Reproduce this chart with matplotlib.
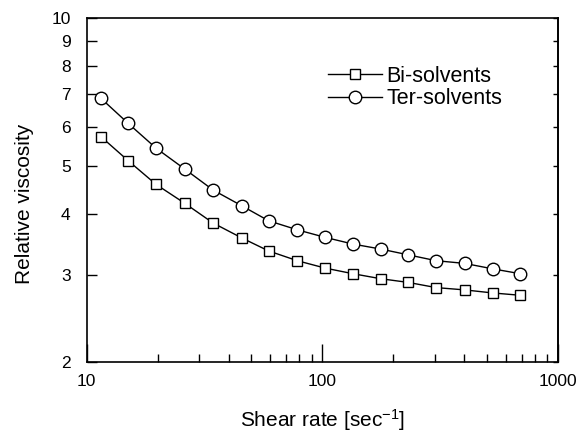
#!/usr/bin/env python3

import matplotlib
matplotlib.use("Agg")
import matplotlib.pyplot as plt
from matplotlib.ticker import FixedLocator, NullFormatter, FixedFormatter

# shear rate [1/s]
shear_rate = [11.5, 15.0, 19.7, 26.1, 34.4, 45.6, 59.2, 78.3,
              103, 135, 177, 231, 304, 401, 528, 692]

bi_solvents = [5.74, 5.13, 4.59, 4.20, 3.83, 3.57, 3.36, 3.21,
               3.10, 3.02, 2.95, 2.90, 2.83, 2.80, 2.76, 2.73]
ter_solvents = [6.87, 6.11, 5.44, 4.93, 4.47, 4.15, 3.87, 3.71,
                3.58, 3.47, 3.39, 3.30, 3.21, 3.17, 3.09, 3.02]

y_ticks = [2, 3, 4, 5, 6, 7, 8, 9, 10]
y_tick_labels = ["2", "3", "4", "5", "6", "7", "8", "9", "10"]
x_major = [10, 100, 1000]
x_major_labels = ["10", "100", "1000"]


def main():
    plt.rcParams["font.family"] = ["Liberation Sans", "DejaVu Sans"]
    plt.rcParams["mathtext.fontset"] = "custom"
    plt.rcParams["mathtext.rm"] = "Liberation Sans"
    plt.rcParams["mathtext.it"] = "Liberation Sans"
    plt.rcParams["mathtext.bf"] = "Liberation Sans"

    fig = plt.figure(figsize=(5.85, 4.36), dpi=100)
    ax = fig.add_axes([0.148, 0.1704, 0.806, 0.788])

    ax.plot(shear_rate, bi_solvents, color="black", linewidth=1.0,
            marker="s", markersize=7.5, markerfacecolor="white",
            markeredgecolor="black", markeredgewidth=1.0, label="Bi-solvents")
    ax.plot(shear_rate, ter_solvents, color="black", linewidth=1.0,
            marker="o", markersize=9, markerfacecolor="white",
            markeredgecolor="black", markeredgewidth=1.0, label="Ter-solvents")

    ax.set_xscale("log")
    ax.set_yscale("log")
    ax.set_xlim(10, 1000)
    ax.set_ylim(2, 10)

    ax.xaxis.set_major_locator(FixedLocator(x_major))
    ax.xaxis.set_major_formatter(FixedFormatter(x_major_labels))
    minors = [m * d for d in (10, 100) for m in range(2, 10)]
    ax.xaxis.set_minor_locator(FixedLocator(minors))
    ax.xaxis.set_minor_formatter(NullFormatter())

    ax.yaxis.set_major_locator(FixedLocator(y_ticks))
    ax.yaxis.set_major_formatter(FixedFormatter(y_tick_labels))
    ax.yaxis.set_minor_locator(FixedLocator([]))

    ax.tick_params(axis="x", which="major", direction="in", length=13,
                   width=1.0, labelsize=12.5, pad=9, top=False)
    ax.tick_params(axis="x", which="minor", direction="in", length=6,
                   width=1.0, top=False)
    ax.tick_params(axis="y", which="major", direction="in", length=7,
                   width=1.0, labelsize=12.5, pad=11.5, right=False)

    # short ticks on the right-hand frame, no labels
    right = ax.secondary_yaxis("right")
    right.yaxis.set_major_locator(FixedLocator(y_ticks))
    right.yaxis.set_major_formatter(NullFormatter())
    right.yaxis.set_minor_locator(FixedLocator([]))
    right.tick_params(direction="in", length=3.5, width=1.0)
    right.spines["right"].set_linewidth(1.2)

    for side in ["left", "right", "top", "bottom"]:
        ax.spines[side].set_linewidth(1.2)

    ax.set_xlabel("Shear rate [sec$^{-1}$]", fontsize=15)
    ax.xaxis.set_label_coords(0.501, -0.170)
    ax.xaxis.label.set_verticalalignment("center")

    ax.set_ylabel("Relative viscosity", fontsize=15)
    ax.yaxis.set_label_coords(-0.131, 0.458)
    ax.yaxis.label.set_verticalalignment("center")

    ax.legend(loc="upper left", bbox_to_anchor=(0.512, 0.862), frameon=False,
              fontsize=15.5, handlelength=2.5, handletextpad=0.2,
              labelspacing=0.08, borderaxespad=0, borderpad=0)

    fig.savefig("out.png", dpi=100)
    plt.close(fig)


if __name__ == "__main__":
    main()
